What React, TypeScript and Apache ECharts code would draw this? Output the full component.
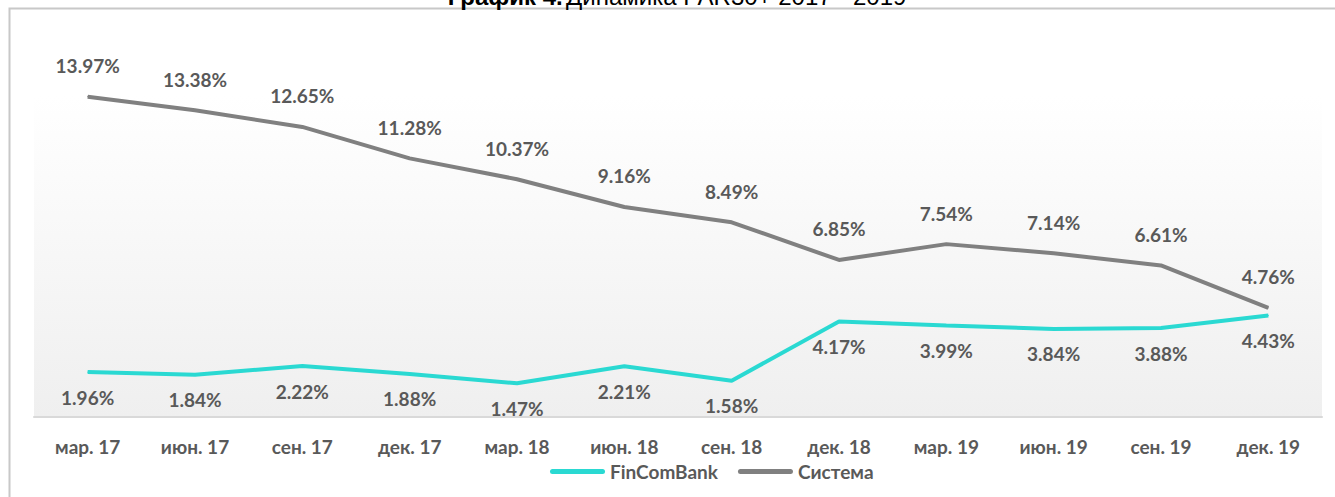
import React, { useEffect, useRef } from "react";
import * as echarts from "echarts";

const categories = ["мар. 17", "июн. 17", "сен. 17", "дек. 17", "мар. 18", "июн. 18", "сен. 18", "дек. 18", "мар. 19", "июн. 19", "сен. 19", "дек. 19"];
const fincomValues = [1.96, 1.84, 2.22, 1.88, 1.47, 2.21, 1.58, 4.17, 3.99, 3.84, 3.88, 4.43];
const systemValues = [13.97, 13.38, 12.65, 11.28, 10.37, 9.16, 8.49, 6.85, 7.54, 7.14, 6.61, 4.76];
const seriesNames = ["FinComBank", "Система"];

const FONT = "Lato, 'Noto Sans', sans-serif";
const LABEL_COLOR = "#595959";

export default function App() {
  const ref = useRef<HTMLDivElement>(null);
  useEffect(() => {
    if (!ref.current) return;
    const chart = echarts.init(ref.current, null, { renderer: "svg" });
    const labelStyle = {
      show: true,
      fontFamily: FONT,
      fontWeight: "bold" as const,
      fontSize: 19,
      color: LABEL_COLOR,
      formatter: (p: any) => Number(p.value).toFixed(2) + "%",
    };
    chart.setOption({
      animation: false,
      backgroundColor: "#ffffff",
      textStyle: { fontFamily: FONT },
      graphic: [
        {
          type: "rect",
          shape: { x: 9.5, y: 8.5, width: 1400, height: 600 },
          style: { fill: "none", stroke: "#c8c8c8", lineWidth: 2 },
          silent: true,
        },
        {
          type: "text",
          x: 677,
          y: 8,
          style: {
            text: "{b|График 4.} {r|Динамика PAR30+ 2017 - 2019}",
            align: "center",
            verticalAlign: "bottom",
            rich: {
              b: { fontFamily: "'Liberation Sans', Arial, sans-serif", fontWeight: "bold", fontSize: 24, fill: "#000" },
              r: { fontFamily: "'Liberation Sans', Arial, sans-serif", fontSize: 24, fill: "#000" },
            },
          },
          silent: true,
        },
      ],
      grid: {
        left: 34,
        right: 13,
        top: 96,
        bottom: 80,
        show: true,
        borderWidth: 0,
        backgroundColor: new echarts.graphic.LinearGradient(0, 0, 0, 1, [
          { offset: 0, color: "#ffffff" },
          { offset: 1, color: "#efefef" },
        ]),
      },
      legend: {
        data: seriesNames,
        left: 545,
        top: 457,
        itemWidth: 55,
        itemHeight: 22,
        itemGap: 20,
        icon: "path://M2.5,8.5 L52.5,8.5 A2.5,2.5 0 0 1 52.5,13.5 L2.5,13.5 A2.5,2.5 0 0 1 2.5,8.5 Z",
        textStyle: { fontFamily: FONT, fontWeight: "bold", fontSize: 19, color: LABEL_COLOR },
      },
      xAxis: {
        type: "category",
        data: categories,
        boundaryGap: true,
        axisLine: { show: true, lineStyle: { color: "#d9d9d9", width: 2 } },
        axisTick: { show: false },
        axisLabel: {
          fontFamily: FONT,
          fontWeight: "bold",
          fontSize: 19,
          color: LABEL_COLOR,
          margin: 20,
        },
      },
      yAxis: {
        type: "value",
        min: 0,
        max: 14,
        show: false,
        splitLine: { show: false },
      },
      series: [
        {
          name: seriesNames[0],
          type: "line",
          data: fincomValues,
          symbol: "circle",
          symbolSize: 1,
          showSymbol: true,
          lineStyle: { color: "#2ad9d2", width: 4 },
          itemStyle: { color: "#2ad9d2" },
          label: { ...labelStyle, position: "bottom", distance: 15 },
        },
        {
          name: seriesNames[1],
          type: "line",
          data: systemValues,
          symbol: "circle",
          symbolSize: 1,
          showSymbol: true,
          lineStyle: { color: "#808080", width: 4 },
          itemStyle: { color: "#808080" },
          label: { ...labelStyle, position: "top", distance: 21 },
        },
      ],
    });
    return () => chart.dispose();
  }, []);
  return (
    <div
      ref={ref}
      style={{ position: "absolute", left: 0, top: 0, width: 1335, height: 497 }}
    />
  );
}
